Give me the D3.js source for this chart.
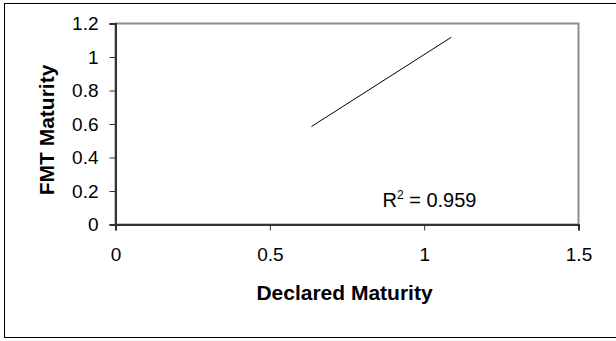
<!DOCTYPE html>
<html>
<head>
<meta charset="utf-8">
<script src="https://cdn.jsdelivr.net/npm/d3@7"></script>
<style>
  html, body { margin: 0; padding: 0; background: #fff; }
  svg { display: block; font-family: Arial, "Liberation Sans", sans-serif; }
</style>
</head>
<body>
<svg id="chart" width="616" height="341"></svg>
<script>
// Trendline endpoints (declared maturity vs FMT maturity)
const trendX = [0.635, 1.088];
const trendY = [0.585, 1.118];
const rSquared = "0.959";

const xTicks = [0, 0.5, 1, 1.5];
const yTicks = [0, 0.2, 0.4, 0.6, 0.8, 1, 1.2];

const xTitle = "Declared Maturity";
const yTitle = "FMT Maturity";

const FONT = "Arial, 'Liberation Sans', sans-serif";
const svg = d3.select("#chart");
const W = 616;
const plot = { left: 115.5, right: 578.5, top: 23.5, bottom: 224.5 };

const x = d3.scaleLinear().domain([0, 1.5]).range([plot.left, plot.right]);
const y = d3.scaleLinear().domain([0, 1.2]).range([plot.bottom, plot.top]);

// outer chart frame (right edge runs off the canvas)
svg.append("rect")
  .attr("x", 4.5).attr("y", 3.5)
  .attr("width", W + 10).attr("height", 334)
  .attr("fill", "#fff").attr("stroke", "#000").attr("stroke-width", 1);

// plot area border
svg.append("rect")
  .attr("x", plot.left).attr("y", plot.top)
  .attr("width", plot.right - plot.left).attr("height", plot.bottom - plot.top)
  .attr("fill", "#fff").attr("stroke", "#8c8c8c").attr("stroke-width", 2);

// axes
const xAxis = d3.axisBottom(x).tickValues(xTicks).tickSize(6).tickPadding(17.5)
  .tickFormat(d3.format("~g"));
const yAxis = d3.axisLeft(y).tickValues(yTicks).tickSize(6).tickPadding(11)
  .tickFormat(d3.format("~g"));

const gx = svg.append("g").attr("transform", `translate(0,${plot.bottom})`).call(xAxis);
const gy = svg.append("g").attr("transform", `translate(${plot.left},0)`).call(yAxis);

[gx, gy].forEach(g => {
  g.attr("font-size", null).attr("font-family", null);
  g.select(".domain").attr("stroke", "#333").attr("stroke-width", 2);
  g.selectAll(".tick line").attr("stroke", "#333");
  g.selectAll(".tick text")
    .attr("fill", "#000")
    .style("font-size", "19px")
    .style("font-family", FONT);
});

// trendline
const pts = trendX.map((v, i) => [v, trendY[i]]);
svg.append("path")
  .datum(pts)
  .attr("d", d3.line().x(d => x(d[0])).y(d => y(d[1])))
  .attr("fill", "none").attr("stroke", "#000").attr("stroke-width", 1);

// R² label
const r2 = svg.append("text")
  .attr("x", 382.5).attr("y", 207)
  .style("font-size", "20px").style("font-family", FONT).attr("fill", "#000");
r2.append("tspan").text("R");
r2.append("tspan").attr("dy", -8).style("font-size", "12px").text("2");
r2.append("tspan").attr("dy", 8).text(" = " + rSquared);

// axis titles
svg.append("text")
  .attr("x", 344.5).attr("y", 300)
  .attr("text-anchor", "middle")
  .style("font-size", "21px").style("font-weight", "bold").style("font-family", FONT)
  .text(xTitle);

svg.append("text")
  .attr("transform", `translate(54,130) rotate(-90)`)
  .attr("text-anchor", "middle")
  .style("font-size", "21px").style("font-weight", "bold").style("font-family", FONT)
  .text(yTitle);
</script>
</body>
</html>
